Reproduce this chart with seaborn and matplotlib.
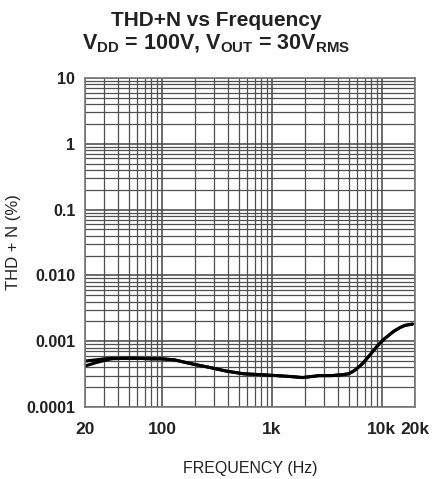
import matplotlib
matplotlib.use("Agg")
import matplotlib.pyplot as plt
import seaborn as sns
import pandas as pd
import numpy as np
from matplotlib.ticker import FixedLocator, LogLocator, NullFormatter

# ---- data ----
freq_hz = [20, 25, 30, 35, 45, 60, 80, 100, 130, 190, 270, 390, 550, 780, 1100,
           1500, 1900, 2700, 3500, 4400, 5000, 5500, 6000, 6700, 7800, 9000,
           10500, 12700, 14500, 16200, 19000]
thd_a = [0.00042, 0.00047, 0.00051, 0.00054, 0.00055, 0.00055, 0.00054, 0.00054,
         0.00052, 0.00045, 0.00040, 0.00035, 0.00032, 0.00031, 0.00030,
         0.00029, 0.00028, 0.00030, 0.00030, 0.00031, 0.00032, 0.00035, 0.00039,
         0.00046, 0.00062, 0.00083, 0.00108, 0.00140, 0.00160, 0.00174, 0.00182]
thd_b = [0.00050, 0.00052, 0.00054, 0.00055, 0.00055, 0.00055, 0.00054, 0.00054,
         0.00052, 0.00045, 0.00040, 0.00035, 0.00032, 0.00031, 0.00030,
         0.00029, 0.00028, 0.00030, 0.00030, 0.00031, 0.00032, 0.00035, 0.00039,
         0.00046, 0.00062, 0.00083, 0.00108, 0.00140, 0.00160, 0.00174, 0.00182]
x_ticks = [20, 100, 1000, 10000, 20000]
x_tick_labels = ["20", "100", "1k", "10k", "20k"]
y_ticks = [0.0001, 0.001, 0.01, 0.1, 1, 10]
y_tick_labels = ["0.0001", "0.001", "0.010", "0.1", "1", "10"]

df = pd.concat([
    pd.DataFrame({"freq": freq_hz, "thd": thd_a, "ch": "a"}),
    pd.DataFrame({"freq": freq_hz, "thd": thd_b, "ch": "b"}),
])

sns.set_theme(style="white")
plt.rcParams["font.family"] = ["Liberation Sans", "DejaVu Sans"]
plt.rcParams["mathtext.fontset"] = "custom"
plt.rcParams["mathtext.rm"] = "Liberation Sans:bold"
plt.rcParams["mathtext.bf"] = "Liberation Sans:bold"
plt.rcParams["mathtext.it"] = "Liberation Sans:bold"

fig = plt.figure(figsize=(4.32, 4.79), dpi=100)
ax = fig.add_axes([85/432, 1 - 407/479, 330/432, 329/479])

sns.lineplot(data=df, x="freq", y="thd", units="ch", estimator=None,
             color="black", linewidth=2.2, ax=ax, legend=False)

ax.set_xscale("log")
ax.set_yscale("log")
ax.set_xlim(20, 20000)
ax.set_ylim(0.0001, 10)

ax.xaxis.set_major_locator(FixedLocator(x_ticks))
ax.set_xticklabels(x_tick_labels)
ax.xaxis.set_minor_locator(LogLocator(base=10, subs=np.arange(2, 10)))
ax.xaxis.set_minor_formatter(NullFormatter())
ax.yaxis.set_major_locator(FixedLocator(y_ticks))
ax.set_yticklabels(y_tick_labels)
ax.yaxis.set_minor_locator(LogLocator(base=10, subs=np.arange(2, 10)))
ax.yaxis.set_minor_formatter(NullFormatter())

ax.grid(True, which="major", color="#444444", linewidth=1.1)
ax.grid(True, which="minor", color="#505050", linewidth=0.9)
ax.set_axisbelow(True)
ax.tick_params(which="both", length=0)
ax.tick_params(axis="x", labelsize=12.5, pad=11)
ax.tick_params(axis="y", labelsize=11.5, pad=7)
for lab in ax.get_xticklabels() + ax.get_yticklabels():
    lab.set_fontweight("bold")
    lab.set_color("#222222")
for s in ax.spines.values():
    s.set_color("#777777")
    s.set_linewidth(1.2)

ax.set_xlabel("FREQUENCY (Hz)", fontsize=11.5, color="#222222")
ax.xaxis.set_label_coords(0.5, -(469 - 407) / 329)
ax.xaxis.label.set_verticalalignment("center")
ax.set_ylabel("THD + N (%)", fontsize=12, color="#222222")
ax.yaxis.set_label_coords(-(85 - 14) / 330, 0.5)
ax.yaxis.label.set_verticalalignment("center")

fig.text(0.5, 1 - 20/479, "THD+N vs Frequency", ha="center", va="center",
         fontsize=15, fontweight="bold", color="#222222")
fig.text(0.5, 1 - 44/479,
         r"V$_{\mathrm{DD}}$ = 100V, V$_{\mathrm{OUT}}$ = 30V$_{\mathrm{RMS}}$",
         ha="center", va="center", fontsize=15.5, fontweight="bold", color="#222222")

fig.savefig("out.png", dpi=100, facecolor="white")
